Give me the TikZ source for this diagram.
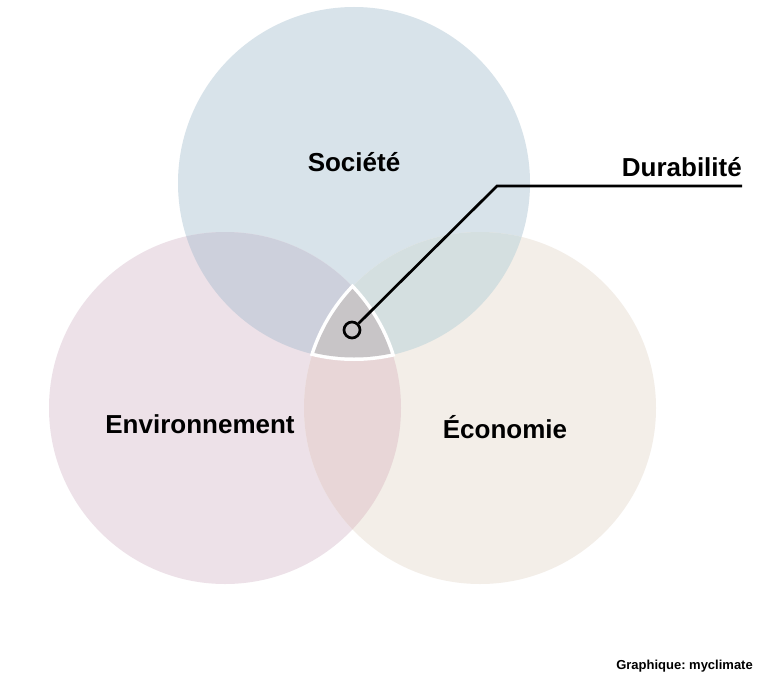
\documentclass[tikz,border=0pt]{standalone}
\usepackage{fontspec}
\setmainfont{Liberation Sans}
\frenchspacing
\definecolor{societe}{RGB}{216,227,234}
\definecolor{environ}{RGB}{237,225,232}
\definecolor{econo}{RGB}{243,238,232}
\definecolor{socenv}{RGB}{205,208,220}
\definecolor{soceco}{RGB}{212,223,224}
\definecolor{enveco}{RGB}{232,214,215}
\definecolor{durable}{RGB}{200,197,199}
\tikzset{
  titre/.style={font=\bfseries\fontsize{26}{30}\selectfont, inner sep=0pt},
  source/.style={font=\bfseries\fontsize{13}{16}\selectfont, inner sep=0pt}
}

\begin{document}
\begin{tikzpicture}[x=1pt,y=-1pt]
    \useasboundingbox (0,0) rectangle (768,685);
    \fill[white] (0,0) rectangle (768,685);

    \coordinate (soc) at (354,183);
    \coordinate (env) at (225,408);
    \coordinate (eco) at (480,408);

    \fill[societe] (soc) circle (176pt);
    \fill[environ] (env) circle (176pt);
    \fill[econo] (eco) circle (176pt);

    \begin{scope}
        \clip (soc) circle (176pt);
        \fill[socenv] (env) circle (176pt);
        \fill[soceco] (eco) circle (176pt);
    \end{scope}
    \begin{scope}
        \clip (env) circle (176pt);
        \fill[enveco] (eco) circle (176pt);
    \end{scope}
    \begin{scope}
        \clip (soc) circle (178pt);
        \clip (env) circle (178pt);
        \clip (eco) circle (178pt);
        \fill[white] (0,0) rectangle (768,685);
    \end{scope}
    \begin{scope}
        \clip (soc) circle (174.5pt);
        \clip (env) circle (174.5pt);
        \clip (eco) circle (174.5pt);
        \fill[durable] (0,0) rectangle (768,685);
    \end{scope}

    \draw (354,171) node [titre, anchor=base] (societeT) {Société};
    \draw (200,433) node [titre, anchor=base] (environT) {Environnement};
    \draw (505,438) node [titre, anchor=base] (econoT) {Économie};

    \draw (352,330) node [draw, circle, line width=2.7pt, inner sep=0pt, minimum size=16pt] (dot) {};
    \coordinate (bend) at (497,186);
    \coordinate (bout) at (742,186);
    \draw[line width=2.7pt] (dot) -- (bend) -- (bout);
    \draw (742,176) node [titre, anchor=base east] (durabT) {Durabilité};

    \draw (753,669) node [source, anchor=base east] (credit) {Graphique: myclimate};
\end{tikzpicture}
\end{document}
